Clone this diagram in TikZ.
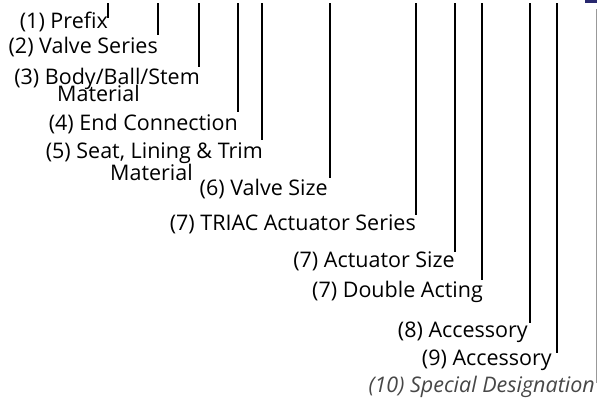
\documentclass[tikz,border=0pt]{standalone}
\usepackage{fontspec}
\setmainfont{Open Sans}
\begin{document}
\begin{tikzpicture}[x=1pt,y=-1pt,
  lbl/.style={anchor=base east,inner sep=0pt,font=\fontsize{21.5}{24}\selectfont},
  lblit/.style={lbl,font=\fontsize{21.5}{24}\selectfont\itshape,text=black!72},
  lead/.style={line width=1.3pt,black},
  leadgray/.style={line width=0.9pt,black!40}]
\useasboundingbox (0,0) rectangle (597,407);
\fill[fill={rgb,255:red,40;green,40;blue,110}] (585,0) rectangle (597,3);
% labels
\node[lbl] (l1) at (108,28) {(1) Prefix};
\node[lbl] (l2) at (158,53) {(2) Valve Series};
\node[lbl] (l3) at (200,84) {(3) Body/Ball/Stem};
\node[lbl] (l3b) at (140,101) {Material};
\node[lbl] (l4) at (238,130) {(4) End Connection};
\node[lbl] (l5) at (263,158) {(5) Seat, Lining \& Trim};
\node[lbl] (l5b) at (193,180) {Material};
\node[lbl] (l6) at (328,195) {(6) Valve Size};
\node[lbl] (l7) at (416,230) {(7) TRIAC Actuator Series};
\node[lbl] (l8) at (455,267) {(7) Actuator Size};
\node[lbl] (l9) at (483,297) {(7) Double Acting};
\node[lbl] (l10) at (528,337) {(8) Accessory};
\node[lbl] (l11) at (552,365) {(9) Accessory};
\node[lblit] (l12) at (595,392) {(10) Special Designation};
% top ends
\coordinate (t1) at (108,3);
\coordinate (t2) at (158,3);
\coordinate (t3) at (199,3);
\coordinate (t4) at (238,3);
\coordinate (t5) at (262,3);
\coordinate (t6) at (330,3);
\coordinate (t7) at (416,3);
\coordinate (t8) at (455,3);
\coordinate (t9) at (482,3);
\coordinate (t10) at (530,3);
\coordinate (t11) at (557,3);
\coordinate (t12) at (596,9);
% leaders
\draw[lead] (t1) -- ([yshift=10pt]t1 |- l1.base);
\draw[lead] (t2) -- ([yshift=18pt]t2 |- l2.base);
\draw[lead] (t3) -- ([yshift=17pt]t3 |- l3.base);
\draw[lead] (t4) -- ([yshift=18pt]t4 |- l4.base);
\draw[lead] (t5) -- ([yshift=18pt]t5 |- l5.base);
\draw[lead] (t6) -- ([yshift=17pt]t6 |- l6.base);
\draw[lead] (t7) -- ([yshift=15pt]t7 |- l7.base);
\draw[lead] (t8) -- ([yshift=15pt]t8 |- l8.base);
\draw[lead] (t9) -- ([yshift=17pt]t9 |- l9.base);
\draw[lead] (t10) -- ([yshift=14pt]t10 |- l10.base);
\draw[lead] (t11) -- ([yshift=12pt]t11 |- l11.base);
\draw[leadgray] (t12) -- ([yshift=9pt]t12 |- l12.base);
\end{tikzpicture}
\end{document}
